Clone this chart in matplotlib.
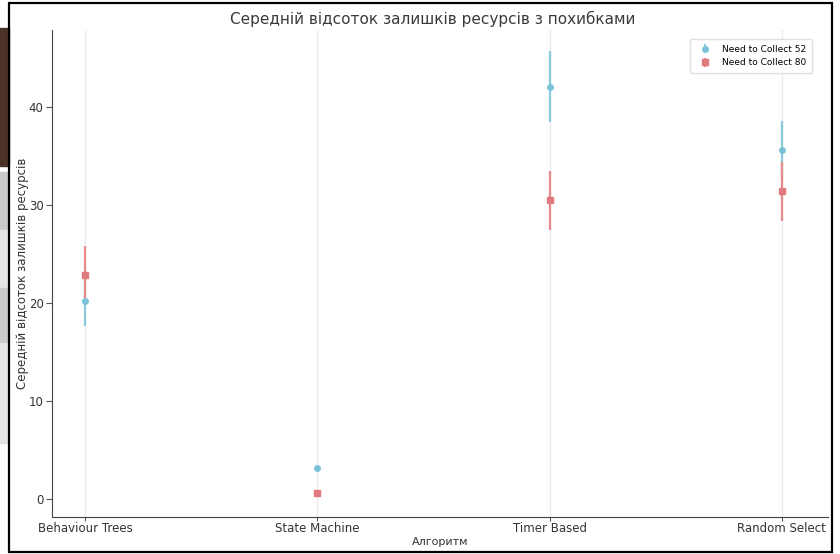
import matplotlib.pyplot as plt
from matplotlib.patches import Rectangle

algorithms = ['Behaviour Trees', 'State Machine', 'Timer Based', 'Random Select']
mean_52 = [20.2, 3.1, 42.1, 35.6]
err_52 = [2.5, 0.0, 3.6, 3.0]
mean_80 = [22.9, 0.6, 30.5, 31.4]
err_80 = [2.9, 0.0, 3.0, 3.0]

fig = plt.figure(figsize=(8.4, 5.54), dpi=100)
ax = fig.add_axes([0.062, 0.067, 0.924, 0.879])

# screenshot leftovers around the chart
fig.patches.append(Rectangle((0, 0.70), 0.011, 0.25, transform=fig.transFigure,
                             color='#4a3228', zorder=0))
for y0, h, c in [(0.585, 0.105, '#c9c9c9'), (0.48, 0.105, '#e4e4e4'),
                 (0.38, 0.10, '#c9c9c9'), (0.20, 0.18, '#e4e4e4')]:
    fig.patches.append(Rectangle((0, y0), 0.011, h, transform=fig.transFigure,
                                 color=c, zorder=0))
fig.patches.append(Rectangle((0.011, 0.004), 0.98, 0.99, transform=fig.transFigure,
                             fill=False, edgecolor='black', linewidth=1.6, zorder=5))

x = range(len(algorithms))
ax.errorbar(x, mean_52, yerr=err_52, fmt='o', color='#7cc3d9', ecolor='#8ccbdd',
            elinewidth=1.6, markersize=4, capsize=0, label='Need to Collect 52', zorder=3)
ax.errorbar(x, mean_80, yerr=err_80, fmt='s', color='#e07a7e', ecolor='#e8898c',
            elinewidth=1.6, markersize=4, capsize=0, label='Need to Collect 80', zorder=3)

ax.set_xticks(list(x))
ax.set_xticklabels(algorithms, fontsize=8.5, color='#333333')
ax.set_xlim(-0.142, 3.2)
ax.set_ylim(-1.85, 47.9)
ax.set_yticks([0, 10, 20, 30, 40])
ax.tick_params(axis='y', labelsize=8.5, length=4, color='#555555', labelcolor='#333333', pad=2)
ax.tick_params(axis='x', length=3, color='#555555', pad=1)
ax.grid(axis='x', color='#ececec', linewidth=1.0)
ax.set_axisbelow(True)
for s in ['top', 'right']:
    ax.spines[s].set_visible(False)
for s in ['left', 'bottom']:
    ax.spines[s].set_color('#444444')

ax.set_title('Середній відсоток залишків ресурсів з похибками', fontsize=11,
             color='#3a3a3a', pad=4, x=0.49)
ax.set_xlabel('Алгоритм', fontsize=8, labelpad=1, color='#333333')
ax.set_ylabel('Середній відсоток залишків ресурсів', fontsize=8.5, labelpad=0,
              color='#333333')
ax.legend(loc='upper right', bbox_to_anchor=(0.985, 0.99), fontsize=6.5, frameon=True,
          framealpha=1, edgecolor='#e0e0e0', handlelength=2.2, borderpad=0.6,
          labelspacing=0.5)

fig.savefig('out.png', dpi=100)
